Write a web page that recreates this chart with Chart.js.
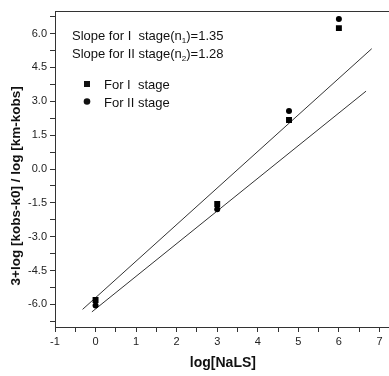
<!DOCTYPE html>
<html>
<head>
<meta charset="utf-8">
<script src="https://cdn.jsdelivr.net/npm/chart.js@4.4.0/dist/chart.umd.min.js"></script>
<style>
	html, body { margin: 0; padding: 0; background: #fff; overflow: hidden; }
	/* the plot runs off the right edge in the original, so the canvas is a bit wider than the window */
	#wrap { width: 395px; height: 376px; position: relative; }
</style>
</head>
<body>
<div id="wrap"><canvas id="chart"></canvas></div>
<script>
	// Values.
	var logNaLS = [0, 3, 4.77, 6];
	var stageI = [-5.8, -1.55, 2.17, 6.24];
	var stageII = [-6.05, -1.78, 2.57, 6.65];

	// Fitted lines: two end points each.
	var fitUpperX = [-0.32, 6.81];
	var fitUpperY = [-6.22, 5.33];
	var fitLowerX = [-0.09, 6.67];
	var fitLowerY = [-6.33, 3.45];

	var xTickValues = [-1, -0.5, 0, 0.5, 1, 1.5, 2, 2.5, 3, 3.5, 4, 4.5, 5, 5.5, 6, 6.5, 7];
	var yTickValues = [-6.75, -6, -5.25, -4.5, -3.75, -3, -2.25, -1.5, -0.75, 0, 0.75, 1.5, 2.25, 3, 3.75, 4.5, 5.25, 6, 6.75];

	var slopeLines = [
		{ pre: 'Slope for I  stage(n', sub: '1', post: ')=1.35' },
		{ pre: 'Slope for II stage(n', sub: '2', post: ')=1.28' }
	];

	function pairs(xs, ys) {
		return xs.map(function (x, i) {
			return { x: x, y: ys[i] };
		});
	}

	var FONT = '"Liberation Sans", Arial, sans-serif';
	var INK = '#111';
	var AXIS = '#333';
	// trailing spaces push the rotated title a little down the axis, as in the original
	var Y_TITLE = '3+log [kobs-k0] / log [km-kobs]' + '\u00a0\u00a0\u00a0\u00a0\u00a0\u00a0\u00a0\u00a0\u00a0';

	// Slope text and the legend sit inside the plot area.
	var annotations = {
		id: 'annotations',
		afterDatasetsDraw: function (chart) {
			var ctx = chart.ctx;
			var left = chart.chartArea.left;
			var top = chart.chartArea.top;
			ctx.save();
			ctx.fillStyle = INK;
			ctx.textBaseline = 'alphabetic';
			slopeLines.forEach(function (s, i) {
				var x = left + 17;
				var y = top + 29 + i * 18;
				ctx.font = '13px ' + FONT;
				ctx.fillText(s.pre, x, y);
				x += ctx.measureText(s.pre).width;
				ctx.font = '8px ' + FONT;
				ctx.fillText(s.sub, x, y + 3);
				x += ctx.measureText(s.sub).width;
				ctx.font = '13px ' + FONT;
				ctx.fillText(s.post, x, y);
			});

			var legendItems = [chart.data.datasets[0], chart.data.datasets[1]];
			legendItems.forEach(function (ds, i) {
				var cx = left + 32;
				var cy = top + 73 + i * 17.5;
				ctx.fillStyle = INK;
				if (ds.pointStyle === 'rect') {
					ctx.fillRect(cx - 3, cy - 3, 6, 6);
				} else {
					ctx.beginPath();
					ctx.arc(cx, cy, 3.3, 0, Math.PI * 2);
					ctx.fill();
				}
				ctx.font = '13px ' + FONT;
				ctx.fillText(ds.label, left + 49, cy + 5);
			});
			ctx.restore();
		}
	};

	new Chart(document.getElementById('chart').getContext('2d'), {
		type: 'scatter',
		data: {
			datasets: [
				{
					label: 'For I  stage',
					data: pairs(logNaLS, stageI),
					pointStyle: 'rect',
					pointRadius: 4.2,
					backgroundColor: '#000',
					borderColor: '#000',
					borderWidth: 0,
					order: 1
				},
				{
					label: 'For II stage',
					data: pairs(logNaLS, stageII),
					pointStyle: 'circle',
					pointRadius: 3,
					backgroundColor: '#000',
					borderColor: '#000',
					borderWidth: 0,
					order: 1
				},
				{
					label: 'fit upper',
					data: pairs(fitUpperX, fitUpperY),
					showLine: true,
					pointRadius: 0,
					borderColor: '#333',
					borderWidth: 1,
					order: 2
				},
				{
					label: 'fit lower',
					data: pairs(fitLowerX, fitLowerY),
					showLine: true,
					pointRadius: 0,
					borderColor: '#333',
					borderWidth: 1,
					order: 2
				}
			]
		},
		options: {
			responsive: true,
			maintainAspectRatio: false,
			animation: false,
			layout: { padding: 0 },
			plugins: {
				legend: { display: false },
				tooltip: { enabled: false }
			},
			scales: {
				x: {
					type: 'linear',
					position: 'bottom',
					min: -1,
					max: 7.28,
					afterBuildTicks: function (scale) {
						scale.ticks = xTickValues.map(function (v) { return { value: v }; });
					},
					afterFit: function (scale) { scale.height = 49; },
					ticks: {
						autoSkip: false,
						maxRotation: 0,
						padding: 3,
						color: '#222',
						font: { family: FONT, size: 11 },
						callback: function (v) {
							return Number.isInteger(v) ? String(v) : '';
						}
					},
					grid: { drawOnChartArea: false, tickLength: 5, color: AXIS },
					border: { color: AXIS, width: 1 },
					title: {
						display: true,
						text: 'log[NaLS]',
						color: INK,
						font: { family: FONT, size: 14, weight: 'bold' },
						padding: { top: 0, bottom: 4 }
					}
				},
				xTop: {
					type: 'linear',
					position: 'top',
					min: -1,
					max: 7.28,
					afterFit: function (scale) { scale.height = 11; },
					ticks: { display: false },
					grid: { display: false },
					border: { color: AXIS, width: 1 }
				},
				y: {
					type: 'linear',
					position: 'left',
					min: -7,
					max: 7,
					afterBuildTicks: function (scale) {
						scale.ticks = yTickValues.map(function (v) { return { value: v }; });
					},
					afterFit: function (scale) { scale.width = 55; },
					ticks: {
						autoSkip: false,
						padding: 3,
						color: '#222',
						font: { family: FONT, size: 11 },
						callback: function (v) {
							return Math.abs(v / 1.5 - Math.round(v / 1.5)) < 1e-6 ? v.toFixed(1) : '';
						}
					},
					grid: { drawOnChartArea: false, tickLength: 5, color: AXIS },
					border: { color: AXIS, width: 1 },
					title: {
						display: true,
						text: Y_TITLE,
						color: INK,
						font: { family: FONT, size: 13.5, weight: 'bold' },
						padding: { top: 8, bottom: 0 }
					}
				}
			}
		},
		plugins: [annotations]
	});
</script>
</body>
</html>
